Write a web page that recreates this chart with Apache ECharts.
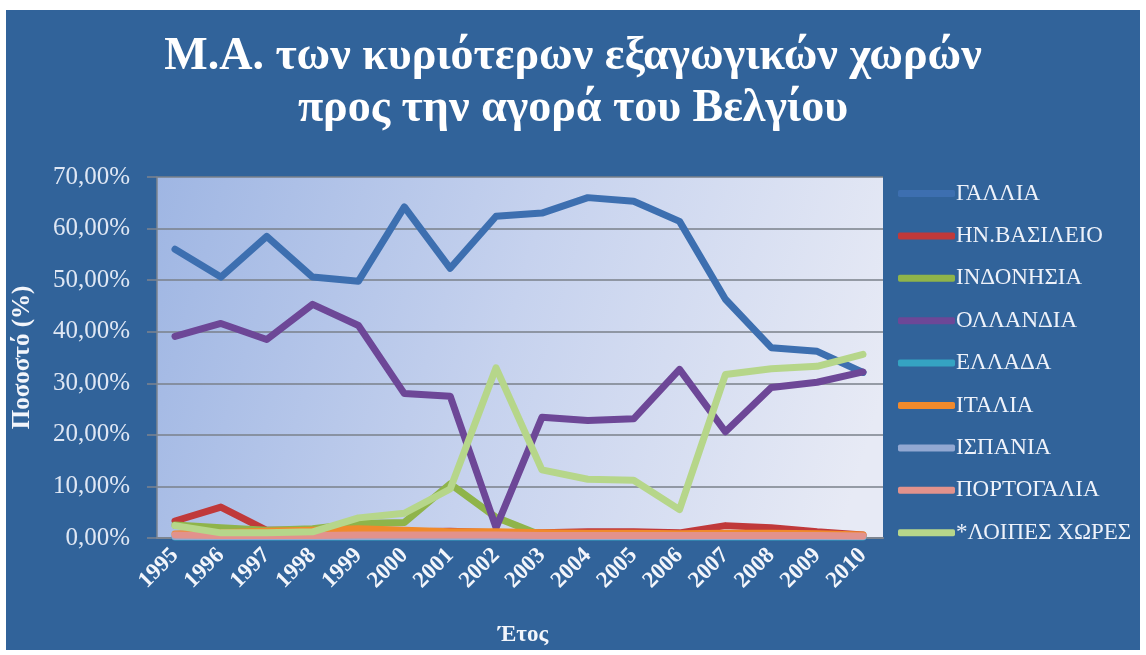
<!DOCTYPE html>
<html>
<head>
<meta charset="utf-8">
<script src="https://cdn.jsdelivr.net/npm/echarts@6/dist/echarts.min.js"></script>
<style>
html,body{margin:0;padding:0;background:#fff;}
#c{width:1146px;height:655px;}
</style>
</head>
<body>
<div id="c"></div>
<script>
const years = ['1995','1996','1997','1998','1999','2000','2001','2002','2003','2004','2005','2006','2007','2008','2009','2010'];
const seriesNames = ['ΓΑΛΛΙΑ','ΗΝ.ΒΑΣΙΛΕΙΟ','ΙΝΔΟΝΗΣΙΑ','ΟΛΛΑΝΔΙΑ','ΕΛΛΑΔΑ','ΙΤΑΛΙΑ','ΙΣΠΑΝΙΑ','ΠΟΡΤΟΓΑΛΙΑ','*ΛΟΙΠΕΣ ΧΩΡΕΣ'];
const gallia      = [56.0, 50.6, 58.5, 50.6, 49.8, 64.2, 52.3, 62.4, 63.0, 66.0, 65.3, 61.4, 46.3, 36.9, 36.2, 32.1];
const hnVasileio  = [3.3, 6.0, 1.5, 1.5, 1.3, 1.2, 1.3, 1.0, 1.0, 1.2, 1.2, 1.0, 2.4, 2.0, 1.2, 0.6];
const indonisia   = [2.5, 2.0, 1.5, 1.8, 2.8, 3.0, 10.5, 4.0, 0.5, 0.3, 0.3, 0.3, 0.3, 0.3, 0.3, 0.3];
const ollandia    = [39.1, 41.6, 38.5, 45.3, 41.2, 28.0, 27.5, 2.0, 23.4, 22.8, 23.1, 32.7, 20.6, 29.2, 30.2, 32.2];
const ellada      = [0.2, 0.2, 0.2, 0.2, 0.2, 0.2, 0.2, 0.2, 0.2, 0.2, 0.2, 0.2, 0.2, 0.2, 0.2, 0.2];
const italia      = [0.8, 1.0, 1.3, 1.5, 1.8, 1.5, 1.2, 1.2, 1.0, 0.9, 0.9, 0.8, 0.9, 0.9, 0.8, 0.6];
const ispania     = [0.3, 0.3, 0.3, 0.3, 0.3, 0.3, 0.3, 0.3, 0.3, 0.3, 0.3, 0.3, 0.3, 0.3, 0.3, 0.3];
const portogalia  = [0.6, 0.5, 0.5, 0.5, 0.6, 0.6, 0.6, 0.6, 0.5, 0.5, 0.5, 0.5, 0.5, 0.5, 0.5, 0.4];
const loipes      = [2.4, 1.0, 1.0, 1.2, 3.9, 4.8, 9.5, 33.0, 13.2, 11.4, 11.2, 5.5, 31.7, 32.8, 33.3, 35.6];
const yTicks = [0, 10, 20, 30, 40, 50, 60, 70];

const seriesData = [gallia, hnVasileio, indonisia, ollandia, ellada, italia, ispania, portogalia, loipes];
const colors = ['#3d6fb0','#c0393a','#8fb44a','#6d4797','#35a3c2','#f08a2c','#92a8d2','#e2928c','#b6d68a'];

const serif = '"Liberation Serif", "DejaVu Serif", serif';
const chart = echarts.init(document.getElementById('c'));

const option = {
  backgroundColor: '#ffffff',
  animation: false,
  color: colors,
  graphic: [
    { type: 'rect', z: -10, shape: { x: 6, y: 10, width: 1134, height: 640 }, style: { fill: '#31639a' } }
  ],
  title: {
    text: 'Μ.Α. των κυριότερων εξαγωγικών χωρών\nπρος την αγορά του Βελγίου',
    left: 'center',
    top: 26,
    textStyle: { color: '#ffffff', fontFamily: serif, fontWeight: 'bold', fontSize: 46, lineHeight: 52 }
  },
  legend: {
    orient: 'vertical',
    left: 893,
    top: 177,
    data: seriesNames,
    icon: 'roundRect',
    itemWidth: 57,
    itemHeight: 7,
    itemGap: 19.4,
    textStyle: { color: '#eef2fa', fontFamily: serif, fontSize: 23, padding: [0,0,0,-4] },
    inactiveColor: '#777'
  },
  grid: [
    { left: 157, right: 263, top: 177, bottom: 117, show: true, borderWidth: 0,
      backgroundColor: { type: 'linear', x: 0, y: 0, x2: 1, y2: 0.6,
        colorStops: [ { offset: 0, color: '#9fb6e3' }, { offset: 0.5, color: '#c6d2ee' }, { offset: 1, color: '#e7eaf5' } ] } },
    { left: 175, right: 283, top: 177, bottom: 117 }
  ],
  xAxis: [
    { gridIndex: 0, type: 'category', data: [''], axisLine: { show: true, lineStyle: { color: '#7d848f', width: 2 } },
      axisTick: { show: false }, axisLabel: { show: false } },
    { gridIndex: 1, type: 'category', data: years, boundaryGap: false,
      axisLine: { show: false }, axisTick: { show: false },
      axisLabel: { rotate: 45, margin: 14, color: '#f2f5fb', fontFamily: serif, fontWeight: 'bold', fontSize: 23 },
      name: 'Έτος', nameLocation: 'middle', nameGap: 86,
      nameTextStyle: { color: '#f2f5fb', fontFamily: serif, fontWeight: 'bold', fontSize: 23, padding: [0, 0, 0, 8] } }
  ],
  yAxis: [
    { gridIndex: 0, type: 'value', min: 0, max: 70, interval: 10,
      axisLine: { show: true, lineStyle: { color: '#7d848f', width: 1.5 } },
      axisTick: { show: true, length: 10, lineStyle: { color: '#7d848f', width: 1.5 } },
      splitLine: { show: true, lineStyle: { color: '#7a808a', width: 1.5 } },
      axisLabel: { color: '#dfe7f4', fontFamily: serif, fontSize: 25, margin: 27,
        formatter: function (v) { return v.toFixed(2).replace('.', ',') + '%'; } },
      name: 'Ποσοστό (%)', nameLocation: 'middle', nameGap: 122, nameRotate: 90,
      nameTextStyle: { color: '#f2f5fb', fontFamily: serif, fontWeight: 'bold', fontSize: 25 } },
    { gridIndex: 1, type: 'value', min: 0, max: 70, interval: 10, show: false, splitLine: { show: false } }
  ],
  series: seriesNames.map(function (name, i) {
    return {
      name: name, type: 'line', xAxisIndex: 1, yAxisIndex: 1,
      data: seriesData[i], showSymbol: false, symbol: 'none',
      lineStyle: { width: 7, color: colors[i], cap: 'round', join: 'round' },
      itemStyle: { color: colors[i] }
    };
  })
};
chart.setOption(option);
</script>
</body>
</html>
